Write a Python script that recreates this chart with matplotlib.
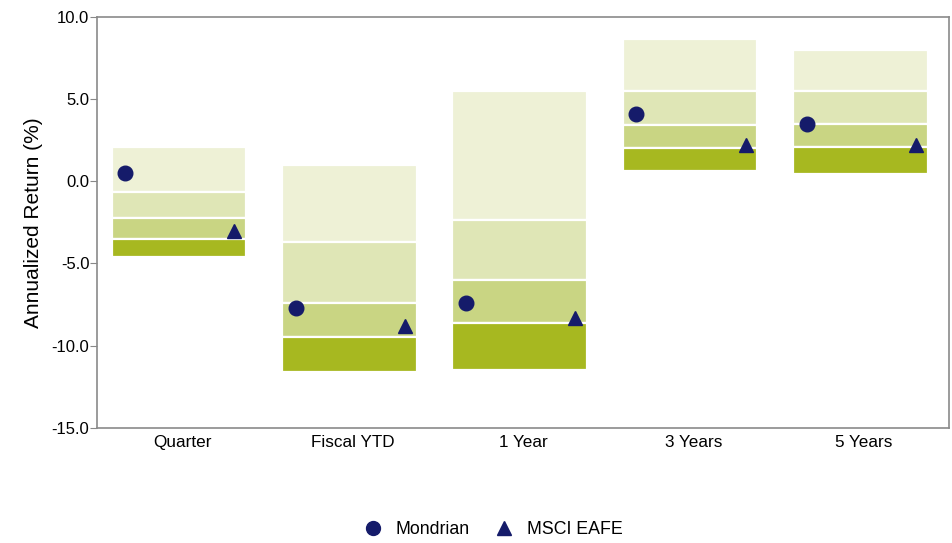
import matplotlib
matplotlib.use("Agg")
import matplotlib.pyplot as plt
from matplotlib.lines import Line2D

plt.rcParams['font.family'] = ['Liberation Sans', 'DejaVu Sans']

categories = ["Quarter", "Fiscal YTD", "1 Year", "3 Years", "5 Years"]
p05 = [2.1, 1.0, 5.5, 8.65, 8.0]
p25 = [-0.65, -3.7, -2.35, 5.5, 5.5]
p50 = [-2.25, -7.4, -6.0, 3.45, 3.5]
p75 = [-3.5, -9.5, -8.6, 2.05, 2.1]
p95 = [-4.6, -11.6, -11.5, 0.6, 0.45]
mondrian = [0.5, -7.7, -7.4, 4.1, 3.5]
msci_eafe = [-3.0, -8.8, -8.3, 2.2, 2.2]

band_colors = ["#eef1d6", "#dfe6b6", "#c9d583", "#a7b820"]
marker_color = "#151b6a"

fig = plt.figure(figsize=(9.52, 5.43), dpi=100)
ax = fig.add_axes([0.102, 0.212, 0.895, 0.757])

width = 0.79
bounds = [p05, p25, p50, p75, p95]
for i in range(len(categories)):
    for k in range(4):
        top = bounds[k][i]
        bot = bounds[k + 1][i]
        ax.bar(i - 0.02, top - bot, bottom=bot, width=width, color=band_colors[k],
               edgecolor="white", linewidth=1.6, zorder=2)

xs = list(range(len(categories)))
ax.plot([x - width / 2 + 0.06 for x in xs], mondrian, linestyle="none", marker="o",
        markersize=10.5, color=marker_color, zorder=5)
ax.plot([x + width / 2 - 0.09 for x in xs], msci_eafe, linestyle="none", marker="^",
        markersize=10.5, color=marker_color, zorder=5)

ax.set_xlim(-0.5, len(categories) - 0.5)
ax.set_ylim(-15, 10)
ax.set_yticks([-15, -10, -5, 0, 5, 10])
ax.set_yticklabels(["%.1f" % v for v in [-15, -10, -5, 0, 5, 10]])
ax.set_xticks(xs)
ax.set_xticklabels(categories)
ax.tick_params(axis="x", length=0, labelsize=12.3, pad=5)
ax.tick_params(axis="y", length=5, color="#888888", labelsize=12, pad=0.5)
for s in ax.spines.values():
    s.set_color("#8a8a8a")
    s.set_linewidth(1.2)
ax.set_ylabel("Annualized Return (%)", fontsize=15, labelpad=6)

handles = [
    Line2D([], [], linestyle="none", marker="o", markersize=10, color=marker_color, label="Mondrian"),
    Line2D([], [], linestyle="none", marker="^", markersize=10, color=marker_color, label="MSCI EAFE"),
]
fig.legend(handles=handles, loc="center", bbox_to_anchor=(0.516, 0.025), ncol=2,
           frameon=False, fontsize=12.8, handletextpad=0.5, columnspacing=1.2,
           handlelength=1.5)

fig.savefig("out.png", dpi=100)
